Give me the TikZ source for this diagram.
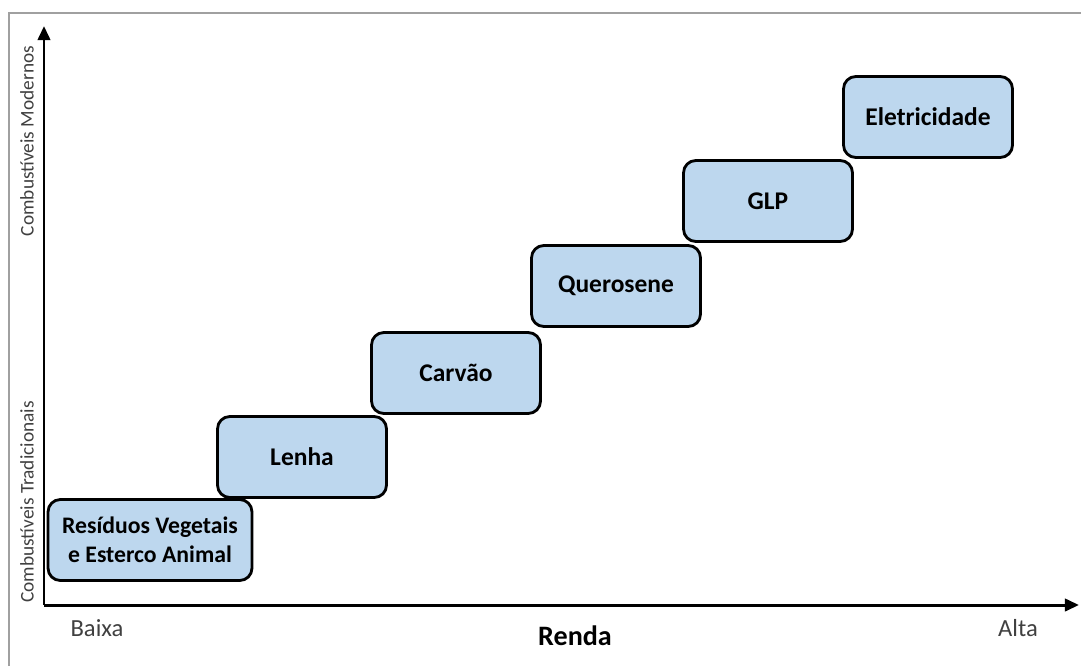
\documentclass[tikz,border=0pt]{standalone}
\usepackage{fontspec}
\setmainfont{Carlito}
\usepackage{tikz}
\usetikzlibrary{arrows.meta,positioning}

\definecolor{boxblue}{HTML}{BDD7EE}
\definecolor{framegray}{HTML}{A0A0A0}
\definecolor{labelgray}{HTML}{404040}

\tikzset{
  fuelbox/.style={draw=black,line width=1.6pt,fill=boxblue,rounded corners=7pt,
    minimum width=3.38cm,minimum height=1.62cm,align=center,
    font=\fontsize{14.5}{16.5}\selectfont\bfseries},
  axisline/.style={line width=1.7pt,-{Triangle[length=8pt,width=7pt]}},
  sidelabel/.style={rotate=90,text=labelgray,font=\fontsize{11}{13}\selectfont},
  endlabel/.style={text=labelgray,font=\fontsize{14}{16}\selectfont}
}

\begin{document}
\begin{tikzpicture}[x=0.02cm,y=-0.02cm]
\useasboundingbox (0,0) rectangle (1081,666);
\draw[framegray,line width=1.1pt] (9,666) -- (9,13) -- (1081,13);
\coordinate (O) at (44,605);
\coordinate (Ytop) at (44,26);
\coordinate (Xend) at (1079,605);
\draw[axisline] (O) -- (Ytop);
\draw[axisline] (O) -- (Xend);
\node[sidelabel] (modern) at (27,141) {Combustíveis Modernos};
\node[sidelabel] (trad) at (27,502) {Combustíveis Tradicionais};
\node[endlabel] (low) at (97,628) {Baixa};
\node[endlabel] (high) at (1018,628) {Alta};
\node[font=\fontsize{16}{19}\selectfont\bfseries] (renda) at (575,636) {Renda};
\node[fuelbox,minimum width=4.08cm,font=\fontsize{13.5}{16.5}\selectfont\bfseries] (residuos) at (150,540) {Resíduos Vegetais\\e Esterco Animal};
\node[fuelbox] (lenha) at (302,457) {Lenha};
\node[fuelbox] (carvao) at (456,373) {Carvão};
\node[fuelbox] (querosene) at (616,286) {Querosene};
\node[fuelbox] (glp) at (768,201) {GLP};
\node[fuelbox] (eletric) at (928,117) {Eletricidade};
\end{tikzpicture}
\end{document}
